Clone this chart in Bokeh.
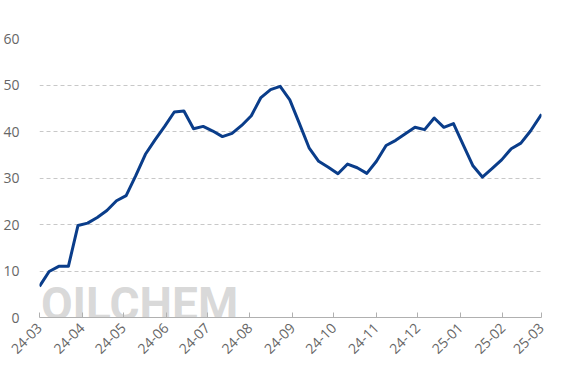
import math
import datetime as dt
from bokeh.plotting import figure
from bokeh.models import (ColumnDataSource, FixedTicker, DatetimeTickFormatter,
                          Range1d, Label)
from bokeh.embed import file_html
from bokeh.resources import INLINE

# ---- data (weekly values) ----
start_date = dt.date(2024, 3, 1)
values = [6.7, 9.9, 11.0, 11.0, 19.8, 20.3, 21.5, 23.0, 25.1, 26.2,
          30.5, 35.1, 38.2, 41.1, 44.2, 44.4, 40.6, 41.1, 40.1, 38.9,
          39.6, 41.3, 43.4, 47.3, 49.0, 49.7, 46.8, 41.7, 36.5, 33.6,
          32.3, 30.9, 33.0, 32.2, 31.0, 33.6, 37.0, 38.1, 39.5, 40.9,
          40.4, 42.9, 40.9, 41.7, 37.2, 32.7, 30.2, 32.0, 33.9, 36.3,
          37.5, 40.1, 43.7]
dates = [start_date + dt.timedelta(days=7 * i) for i in range(len(values))]
dates[-1] = dt.date(2025, 3, 1)
month_ticks = [dt.date(2024 + (2 + m) // 12, (2 + m) % 12 + 1, 1) for m in range(13)]
y_ticks = [0, 10, 20, 30, 40, 50, 60]
watermark = "OILCHEM"

def ms(d):
    return (dt.datetime(d.year, d.month, d.day) - dt.datetime(1970, 1, 1)).total_seconds() * 1000

src = ColumnDataSource(dict(x=[ms(d) for d in dates], y=values))

p = figure(width=567, height=378, output_backend="svg", toolbar_location=None,
           x_axis_type="datetime",
           x_range=Range1d(ms(month_ticks[0]), ms(month_ticks[-1])),
           y_range=Range1d(0, 60),
           min_border_left=39, min_border_right=26, min_border_top=38,
           min_border_bottom=61)
p.outline_line_color = None
p.background_fill_color = "white"
p.border_fill_color = "white"

# watermark (kept inside the frame so it is not clipped)
p.add_layout(Label(x=ms(dt.date(2024, 3, 2)), y=3.0, text=watermark,
                   text_font="Roboto", text_font_style="bold",
                   text_font_size="46px", text_color="#c8c8c8", text_alpha=0.7,
                   text_baseline="alphabetic", level="underlay"))

p.line("x", "y", source=src, line_color="#0a3d8a", line_width=3,
       line_join="round")

# x axis
xa = p.xaxis[0]
xa.ticker = FixedTicker(ticks=[ms(d) for d in month_ticks])
xa.formatter = DatetimeTickFormatter(days="%y-%m", months="%y-%m", years="%y-%m")
xa.major_label_orientation = math.pi / 4
xa.axis_line_color = "#b0b0b0"
xa.major_tick_line_color = "#b0b0b0"
xa.major_tick_in = 5
xa.major_tick_out = 0
xa.minor_tick_line_color = None
xa.major_label_text_color = "#666666"
xa.major_label_text_font = "Open Sans"
xa.major_label_text_font_size = "14px"
xa.major_label_standoff = 8

# y axis
ya = p.yaxis[0]
ya.ticker = FixedTicker(ticks=y_ticks)
ya.axis_line_color = None
ya.major_tick_line_color = None
ya.minor_tick_line_color = None
ya.major_label_text_color = "#666666"
ya.major_label_text_font = "Open Sans"
ya.major_label_text_font_size = "14px"
ya.major_label_standoff = 14

p.xgrid.grid_line_color = None
p.ygrid.grid_line_color = "#c8c8c8"
p.ygrid.grid_line_dash = "4 3"
p.ygrid.grid_line_width = 1

open("out.html", "w").write(file_html(p, INLINE))
